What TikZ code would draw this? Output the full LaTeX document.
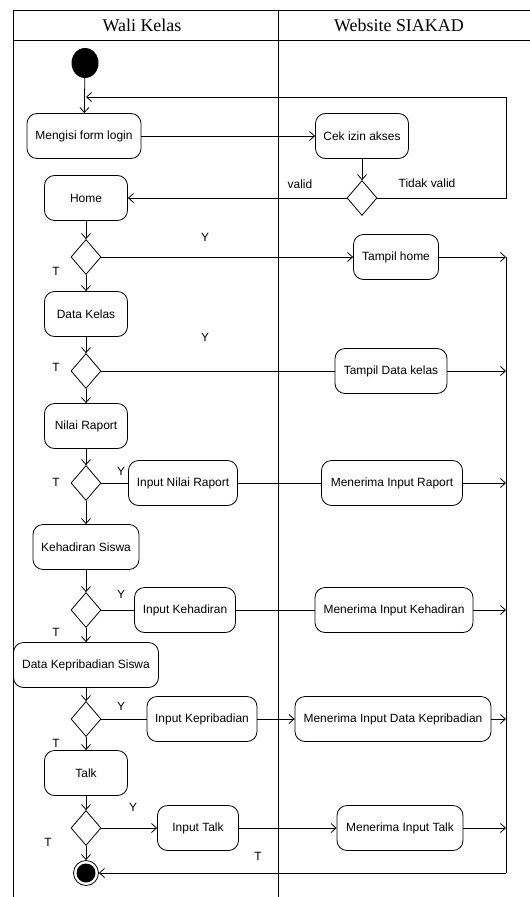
\documentclass[tikz,border=0pt]{standalone}
\usepackage{fontspec}
\setmainfont{Liberation Serif}
\newfontfamily\arialfont{Liberation Sans}
\usetikzlibrary{shapes.geometric,arrows.meta}
\begin{document}
\begin{tikzpicture}[x=1bp,y=-1bp,
  act/.style={draw, rounded corners=10bp, minimum height=45bp, inner sep=0pt,
              font=\arialfont\fontsize{12}{14}\selectfont, line width=0.8bp},
  dec/.style={draw, diamond, minimum width=30bp, minimum height=35bp, inner sep=0pt, line width=0.8bp},
  lbl/.style={font=\arialfont\fontsize{12}{14}\selectfont, inner sep=0pt},
  flow/.style={line width=0.8bp, -{Straight Barb[length=5bp,width=9bp]}},
  plain/.style={line width=0.8bp},
  lane/.style={font=\fontsize{18}{20}\selectfont, inner sep=0pt}
]
\useasboundingbox (0,0) rectangle (530,897);

% swimlane frame
\draw[plain] (13,897) -- (13,10) -- (530,10);
\draw[plain] (13,40) -- (530,40);
\draw[plain] (278,10) -- (278,897);
\node[lane] (laneA) at (142,25) {Wali Kelas};
\node[lane] (laneB) at (399,25) {Website SIAKAD};

% start and end
\node[ellipse, fill, minimum width=27bp, minimum height=30bp, inner sep=0pt] (start) at (85,63) {};
\node[circle, draw, minimum size=25bp, inner sep=0pt, line width=0.8bp] (end) at (86,873) {};
\fill (end.center) circle (9.5bp);

% activities
\node[act, minimum width=114bp] (login) at (84,136) {Mengisi form login};
\node[act, minimum width=93bp]  (cek)   at (362,136) {Cek izin akses};
\node[dec] (d0) at (362,198) {};
\node[act, minimum width=83bp]  (home)  at (86,198) {Home};
\node[dec] (d1) at (86,257) {};
\node[act, minimum width=85bp]  (thome) at (396,257) {Tampil home};
\node[act, minimum width=83bp]  (kelas) at (86,314) {Data Kelas};
\node[dec] (d2) at (86,371) {};
\node[act, minimum width=112bp] (tkelas) at (391,371) {Tampil Data kelas};
\node[act, minimum width=83bp]  (raport) at (86,426) {Nilai Raport};
\node[dec] (d3) at (86,483) {};
\node[act, minimum width=109bp] (inraport) at (183,483) {Input Nilai Raport};
\node[act, minimum width=141bp] (mraport) at (392,483) {Menerima Input Raport};
\node[act, minimum width=106bp] (hadir) at (86,547) {Kehadiran Siswa};
\node[dec] (d4) at (86,610) {};
\node[act, minimum width=101bp] (inhadir) at (185,610) {Input Kehadiran};
\node[act, minimum width=158bp] (mhadir) at (394,610) {Menerima Input Kehadiran};
\node[act, minimum width=145bp] (pribadi) at (86,665) {Data Kepribadian Siswa};
\node[dec] (d5) at (86,719) {};
\node[act, minimum width=110bp] (inpribadi) at (202,719) {Input Kepribadian};
\node[act, minimum width=196bp] (mpribadi) at (393,719) {Menerima Input Data Kepribadian};
\node[act, minimum width=83bp]  (talk) at (86,773) {Talk};
\node[dec] (d6) at (86,828) {};
\node[act, minimum width=81bp]  (intalk) at (198,828) {Input Talk};
\node[act, minimum width=126bp] (mtalk) at (400,828) {Menerima Input Talk};

% guard labels
\node[lbl] (lvalid) at (300,184) {valid};
\node[lbl] (ltidak) at (427,183) {Tidak valid};
\node[lbl] (y1) at (205,237) {Y};
\node[lbl] (t1) at (56,271) {T};
\node[lbl] (y2) at (205,337) {Y};
\node[lbl] (t2) at (56,367) {T};
\node[lbl] (y3) at (121,471) {Y};
\node[lbl] (t3) at (56,482) {T};
\node[lbl] (y4) at (121,594) {Y};
\node[lbl] (t4) at (56,632) {T};
\node[lbl] (y5) at (121,706) {Y};
\node[lbl] (t5) at (56,743) {T};
\node[lbl] (y6) at (133,807) {Y};
\node[lbl] (t6) at (48,842) {T};
\node[lbl] (t7) at (258,856) {T};

% right-hand collecting line
\coordinate (rtop) at (506,97);
\coordinate (loopin) at (86,97);
\coordinate (bus1) at (506,257);
\coordinate (bus2) at (506,371);
\coordinate (bus3) at (506,483);
\coordinate (bus4) at (506,610);
\coordinate (bus5) at (506,719);
\coordinate (bus6) at (506,828);
\coordinate (busend) at (506,873);

% flows
\draw[flow] (start) -- (login);
\draw[flow] (login) -- (cek);
\draw[flow] (cek) -- (d0);
\draw[flow] (d0) -- (home);
\draw[flow] (d0.east) -| (rtop) -- (loopin);
\draw[flow] (home) -- (d1);
\draw[flow] (d1) -- (thome);
\draw[flow] (d1) -- (kelas);
\draw[flow] (kelas) -- (d2);
\draw[plain] (d2) -- (tkelas);
\draw[flow] (d2) -- (raport);
\draw[flow] (raport) -- (d3);
\draw[plain] (d3) -- (inraport);
\draw[plain] (inraport) -- (mraport);
\draw[flow] (d3) -- (hadir);
\draw[flow] (hadir) -- (d4);
\draw[plain] (d4) -- (inhadir);
\draw[plain] (inhadir) -- (mhadir);
\draw[flow] (d4) -- (pribadi);
\draw[flow] (pribadi) -- (d5);
\draw[plain] (d5) -- (inpribadi);
\draw[flow] (inpribadi) -- (mpribadi);
\draw[flow] (d5) -- (talk);
\draw[flow] (talk) -- (d6);
\draw[flow] (d6) -- (intalk);
\draw[flow] (intalk) -- (mtalk);
\draw[flow] (d6) -- (end);

\draw[flow] (thome) -- (bus1);
\draw[flow] (tkelas) -- (bus2);
\draw[flow] (mraport) -- (bus3);
\draw[flow] (mhadir) -- (bus4);
\draw[flow] (mpribadi) -- (bus5);
\draw[flow] (mtalk) -- (bus6);
\draw[plain] (bus1) -- (busend);
\draw[flow] (busend) -- (end);
\end{tikzpicture}
\end{document}
